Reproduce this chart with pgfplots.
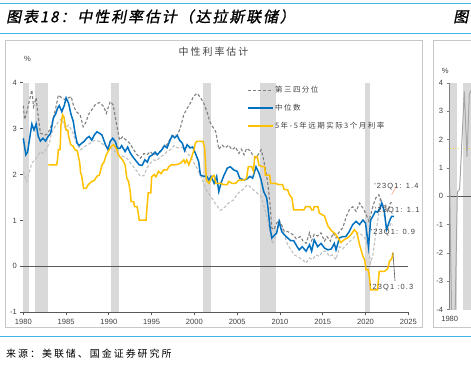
\documentclass[border=0pt]{standalone}
\usepackage{fontspec}
\setmainfont{Liberation Sans}
\newfontfamily\cjkhead[FakeSlant=0.2,FakeBold=1.2,LetterSpace=13]{Noto Sans CJK SC}
\newfontfamily\cjksp[LetterSpace=20]{Noto Sans CJK SC}
\newfontfamily\cjkleg[LetterSpace=20]{Noto Sans CJK SC}
\newfontfamily\cjkfoot[LetterSpace=20]{Noto Sans CJK SC}
\newfontfamily\annfont[LetterSpace=15]{Liberation Sans}
\usepackage{pgfplots}
\pgfplotsset{compat=1.18}
\definecolor{hdrblue}{RGB}{64,180,230}
\definecolor{myblue}{RGB}{0,112,192}
\definecolor{mygold}{RGB}{255,192,0}
\definecolor{dgray}{RGB}{128,128,128}
\definecolor{lgray}{RGB}{191,191,191}
\definecolor{band}{RGB}{217,217,217}
\definecolor{axisgray}{RGB}{89,89,89}
\definecolor{framegray}{RGB}{200,200,200}
\definecolor{txt}{RGB}{64,64,64}
\definecolor{lorange}{RGB}{250,170,130}
\begin{document}
\begin{tikzpicture}[x=1bp,y=1bp]
% header & footer
\draw[hdrblue, line width=1.5bp] (0,364.5) -- (471,364.5);
\draw[hdrblue, line width=1.5bp] (0,334.5) -- (471,334.5);
\node[anchor=west, inner sep=0, font=\cjkhead\fontsize{15}{17}\selectfont, text=black] at (6,351.5) {图表18：中性利率估计（达拉斯联储）};
\node[anchor=west, inner sep=0, font=\cjkhead\fontsize{15}{17}\selectfont, text=black] at (453,351.5) {图表19：};
\draw[framegray, line width=0.8bp] (5,40.3) rectangle (422.7,327.3);
\draw[framegray, line width=0.8bp] (433.3,40.3) rectangle (520,327.3);
\draw[hdrblue, line width=1.5bp] (0,31.3) -- (471,31.3);
\node[anchor=west, inner sep=0, font=\cjkfoot\fontsize{10}{12}\selectfont, text=black] at (6,14.7) {来源：美联储、国金证券研究所};
% title and unit
\node[font=\cjksp\fontsize{10}{12}\selectfont, text=txt] at (213.5,316) {中性利率估计};
\node[font=\fontsize{7.6}{9}\selectfont, text=txt] at (27.5,309.5) {\%};

\begin{axis}[
  at={(23.3bp,55.7bp)}, anchor=south west,
  scale only axis, width=385bp, height=229.6bp,
  xmin=1980, xmax=2025, ymin=-1, ymax=4,
  axis x line*=bottom, axis y line*=left,
  axis line style={axisgray, line width=1bp},
  xtick={1980,1985,...,2025}, ytick={-1,0,1,2,3,4},
  tick align=outside, major tick length=3bp,
  every tick/.style={axisgray, line width=0.8bp},
  ticklabel style={font=\fontsize{7.6}{9}\selectfont, text=txt},
  /pgf/number format/assume math mode=true,
  /pgf/number format/1000 sep={},
  clip=false,
  legend style={at={(0.582,0.99)}, anchor=north west, draw=none, fill=none,
    inner sep=0pt, row sep=8bp, font=\cjkleg\fontsize{7.5}{9}\selectfont, text=txt,
    nodes={inner sep=1bp}},
  legend cell align=left,
  legend image code/.code={\draw[#1] (0bp,0bp) -- (25bp,0bp);},
]
% recession bands
\addplot[fill=band, draw=none, forget plot] coordinates {(1980,-1) (1980,4) (1980.7,4) (1980.7,-1)} --cycle;
\addplot[fill=band, draw=none, forget plot] coordinates {(1981.35,-1) (1981.35,4) (1982.9,4) (1982.9,-1)} --cycle;
\addplot[fill=band, draw=none, forget plot] coordinates {(1990.3,-1) (1990.3,4) (1991.2,4) (1991.2,-1)} --cycle;
\addplot[fill=band, draw=none, forget plot] coordinates {(2000.95,-1) (2000.95,4) (2001.95,4) (2001.95,-1)} --cycle;
\addplot[fill=band, draw=none, forget plot] coordinates {(2007.7,-1) (2007.7,4) (2009.5,4) (2009.5,-1)} --cycle;
\addplot[fill=band, draw=none, forget plot] coordinates {(2019.95,-1) (2019.95,4) (2020.55,4) (2020.55,-1)} --cycle;
% zero line
\addplot[axisgray, line width=1bp, forget plot] coordinates {(1980,0) (2025,0)};
% first quartile (light gray dashed)
\addplot[lgray, line width=1.1bp, dash pattern=on 3bp off 2bp, forget plot] coordinates {
(1980.0,2.07) (1980.4,1.85) (1981.0,2.25) (1981.5,2.35) (1982.0,2.50) (1982.3,2.46)
(1982.65,2.54) (1983.05,2.68) (1983.3,2.90) (1983.7,3.04) (1984.1,3.15) (1984.5,3.22)
(1984.9,3.01) (1985.3,3.08) (1985.7,2.95) (1986.2,2.70) (1986.65,2.54) (1987.2,2.61)
(1987.8,2.68) (1988.4,2.75) (1988.9,2.72) (1989.6,2.61) (1990.15,2.61) (1990.5,2.54)
(1991.15,2.43) (1991.6,2.40) (1992.1,2.36) (1992.7,2.21) (1993.3,2.07) (1993.7,1.96)
(1994.1,1.98) (1994.45,2.14) (1994.85,2.25) (1995.25,2.32) (1995.6,2.30) (1996.0,2.39)
(1996.4,2.42) (1996.8,2.50) (1997.2,2.54) (1997.6,2.63) (1998.0,2.58) (1998.55,2.60)
(1999.0,2.50) (1999.35,2.43) (1999.75,2.32) (2000.3,2.14) (2000.7,1.99) (2001.1,1.80)
(2001.5,1.63) (2002.0,1.50) (2002.5,1.35) (2003.05,1.22) (2003.5,1.28) (2004.0,1.38)
(2004.6,1.45) (2005.0,1.58) (2005.4,1.63) (2005.8,1.70) (2006.2,1.78) (2006.6,1.72)
(2007.2,1.62) (2007.8,1.52) (2008.1,1.34) (2008.5,1.05) (2008.9,0.69) (2009.1,0.50)
(2009.4,0.62) (2009.95,0.98) (2010.5,0.69) (2010.9,0.47) (2011.3,0.36) (2011.65,0.25)
(2012.0,0.22) (2012.6,0.15) (2013.05,0.07) (2013.45,0.18) (2013.8,0.15) (2014.2,0.25)
(2014.6,0.22) (2015.0,0.33) (2015.4,0.33) (2015.75,0.22) (2016.1,0.25) (2016.55,0.15)
(2016.95,0.43) (2017.35,0.38) (2017.75,0.47) (2018.35,0.58) (2018.75,0.65) (2019.15,0.73)
(2019.5,0.70) (2019.9,0.62) (2020.3,0.43) (2020.6,0.07) (2020.85,0.25) (2021.15,0.65)
(2021.5,1.09) (2021.7,1.49) (2022.0,1.27) (2022.3,1.01) (2022.6,0.80) (2023.0,0.94)
(2023.2,0.90)};
% third quartile (dark gray dashed)
\addplot[dgray, line width=1.1bp, dash pattern=on 3bp off 2bp] coordinates {
(1980.0,3.50) (1980.15,3.20) (1980.4,3.35) (1980.7,3.60) (1981.0,3.84) (1981.2,3.48)
(1981.5,3.67) (1981.75,3.25) (1982.0,2.90) (1982.3,2.88) (1982.6,2.86) (1982.9,2.90)
(1983.3,3.08) (1983.7,3.37) (1984.1,3.73) (1984.5,3.67) (1984.9,3.63) (1985.3,3.67)
(1985.6,3.70) (1985.9,3.48) (1986.2,3.37) (1986.65,3.30) (1987.0,3.04) (1987.35,3.15)
(1987.6,3.30) (1988.0,3.41) (1988.4,3.52) (1988.9,3.57) (1989.4,3.48) (1989.7,3.33)
(1990.15,3.59) (1990.5,3.52) (1990.95,3.04) (1991.25,2.75) (1991.6,2.82) (1991.9,2.77)
(1992.45,2.68) (1992.9,2.54) (1993.3,2.43) (1993.7,2.36) (1994.1,2.46) (1994.45,2.43)
(1994.85,2.50) (1995.2,2.43) (1995.6,2.46) (1996.0,2.50) (1996.4,2.61) (1996.8,2.65)
(1997.2,2.79) (1997.6,2.86) (1998.0,2.86) (1998.35,3.01) (1998.75,3.30) (1999.15,3.44)
(1999.5,3.55) (1999.9,3.70) (2000.3,3.77) (2000.7,3.68) (2001.1,3.55) (2001.5,3.35)
(2001.8,3.15) (2002.1,3.05) (2002.5,2.93) (2002.85,2.55) (2003.25,2.64) (2003.6,2.58)
(2004.0,2.64) (2004.4,2.54) (2004.8,2.60) (2005.2,2.46) (2005.5,2.55) (2005.8,2.43)
(2006.1,2.57) (2006.5,2.52) (2006.8,2.43) (2007.2,2.36) (2007.5,2.45) (2007.8,2.54)
(2008.05,2.36) (2008.35,2.07) (2008.6,1.78) (2008.85,1.34) (2009.05,0.83) (2009.3,0.80)
(2009.6,0.94) (2009.9,1.01) (2010.2,0.90) (2010.5,0.76) (2010.9,0.76) (2011.25,0.72)
(2011.6,0.68) (2011.9,0.60) (2012.4,0.65) (2012.7,0.55) (2013.05,0.50) (2013.45,0.73)
(2013.7,0.56) (2014.0,0.70) (2014.4,0.66) (2014.8,0.73) (2015.2,0.55) (2015.5,0.65)
(2015.9,0.55) (2016.2,0.73) (2016.55,0.62) (2016.95,0.76) (2017.35,0.84) (2017.75,1.09)
(2018.1,1.23) (2018.5,1.30) (2018.9,1.20) (2019.3,1.38) (2019.7,1.27) (2020.0,1.16)
(2020.4,0.98) (2020.85,1.30) (2021.2,1.49) (2021.55,1.56) (2021.8,1.45) (2022.1,1.30)
(2022.35,1.33) (2022.6,1.20) (2022.9,1.38) (2023.2,1.40)};
\addlegendentry{第三四分位}
% median (blue)
\addplot[myblue, line width=1.5bp] coordinates {
(1980.0,2.79) (1980.3,2.43) (1980.5,2.49) (1981.0,3.10) (1981.25,2.97) (1981.5,3.10)
(1981.75,2.83) (1982.0,2.73) (1982.3,2.79) (1982.6,2.73) (1982.9,2.83) (1983.2,2.90)
(1983.5,3.22) (1983.8,3.33) (1984.0,3.44) (1984.2,3.50) (1984.5,3.37) (1984.8,3.51)
(1985.0,3.67) (1985.3,3.55) (1985.55,3.33) (1985.85,3.15) (1986.05,2.90) (1986.3,2.68)
(1986.55,2.63) (1986.8,2.68) (1987.1,2.72) (1987.4,2.79) (1987.7,2.83) (1988.0,2.75)
(1988.3,2.86) (1988.6,2.93) (1988.9,2.90) (1989.2,2.86) (1989.6,2.65) (1989.9,2.54)
(1990.15,2.72) (1990.45,2.79) (1990.75,2.72) (1991.0,2.57) (1991.3,2.57) (1991.5,2.63)
(1991.9,2.50) (1992.2,2.60) (1992.5,2.47) (1992.9,2.36) (1993.3,2.27) (1993.55,2.21)
(1993.9,2.20) (1994.2,2.32) (1994.5,2.27) (1994.75,2.39) (1995.1,2.43) (1995.4,2.49)
(1995.65,2.43) (1995.95,2.49) (1996.2,2.54) (1996.5,2.63) (1996.8,2.58) (1997.1,2.72)
(1997.4,2.85) (1997.7,2.80) (1998.0,2.85) (1998.25,2.75) (1998.6,2.68) (1998.85,2.52)
(1999.15,2.65) (1999.5,2.58) (1999.8,2.60) (2000.1,2.47) (2000.5,2.28) (2000.7,1.99)
(2001.1,1.96) (2001.4,1.97) (2001.7,1.88) (2001.95,1.96) (2002.3,1.81) (2002.6,1.96)
(2002.85,1.63) (2003.1,1.81) (2003.4,1.96) (2003.85,2.14) (2004.2,2.17) (2004.6,2.10)
(2005.0,2.07) (2005.3,1.92) (2005.8,1.88) (2006.1,1.90) (2006.5,1.96) (2006.8,1.92)
(2007.2,2.17) (2007.55,2.03) (2007.8,1.88) (2008.1,1.63) (2008.45,1.49) (2008.6,1.27)
(2008.85,0.83) (2009.05,0.62) (2009.4,0.69) (2009.6,0.72) (2009.9,0.98) (2010.2,0.76)
(2010.5,0.69) (2010.9,0.62) (2011.25,0.56) (2011.6,0.56) (2012.0,0.43) (2012.25,0.36)
(2012.6,0.43) (2013.05,0.33) (2013.45,0.47) (2013.7,0.33) (2014.0,0.58) (2014.4,0.43)
(2014.8,0.50) (2015.2,0.40) (2015.6,0.36) (2016.0,0.38) (2016.35,0.50) (2016.55,0.36)
(2016.95,0.62) (2017.35,0.65) (2017.7,0.65) (2018.1,0.76) (2018.5,0.91) (2018.9,0.98)
(2019.3,0.91) (2019.7,1.01) (2020.0,0.94) (2020.35,0.43) (2020.6,1.01) (2020.85,1.09)
(2021.15,1.20) (2021.4,1.18) (2021.7,1.27) (2021.9,1.38) (2022.2,1.20) (2022.45,0.80)
(2022.85,1.01) (2023.06,1.09) (2023.3,1.09)};
\addlegendentry{中位数}
% 5y5y forward real 3-month rate (gold)
\addplot[mygold, line width=1.5bp] coordinates {
(1982.93,2.21) (1983.9,2.21) (1984.0,2.32) (1984.1,2.54) (1984.3,2.54) (1984.4,3.08)
(1984.6,3.30) (1984.75,3.25) (1985.0,2.97) (1985.2,2.97) (1985.3,2.83) (1985.55,2.65)
(1985.8,2.62) (1986.05,2.54) (1986.3,2.52) (1986.6,2.25) (1986.7,2.03) (1986.8,1.99)
(1987.05,1.70) (1987.35,1.70) (1987.6,1.78) (1988.0,1.85) (1988.3,1.87) (1988.6,1.96)
(1988.9,1.99) (1989.2,2.21) (1989.45,2.28) (1989.7,2.43) (1989.95,2.51) (1990.25,2.61)
(1990.55,2.65) (1990.95,2.54) (1991.1,2.43) (1991.6,2.32) (1991.9,2.21) (1992.1,1.92)
(1992.3,1.85) (1992.5,1.63) (1992.6,1.41) (1992.9,1.41) (1993.0,1.30) (1993.3,1.30)
(1993.4,1.20) (1993.55,1.01) (1994.35,1.01) (1994.45,1.27) (1994.6,1.60) (1994.9,1.60)
(1995.0,1.95) (1995.3,2.00) (1995.5,1.95) (1995.8,2.07) (1996.1,2.02) (1996.4,2.10)
(1996.8,2.10) (1997.0,2.17) (1997.3,2.21) (1997.6,2.21) (1998.0,2.22) (1998.4,2.25)
(1998.75,2.32) (1998.9,2.25) (1999.1,2.32) (1999.35,2.21) (1999.65,2.36) (1999.95,2.54)
(2000.1,2.68) (2000.25,2.72) (2001.0,2.72) (2001.2,2.57) (2001.4,1.88) (2001.7,1.81)
(2002.1,1.96) (2002.3,1.98) (2002.5,1.81) (2003.05,1.81) (2003.4,1.78) (2003.85,1.78)
(2004.0,1.85) (2004.4,1.81) (2004.8,1.81) (2005.2,1.88) (2005.8,1.88) (2006.1,1.92)
(2006.3,2.17) (2006.7,2.17) (2006.9,2.07) (2007.05,2.39) (2007.35,2.39) (2007.55,2.20)
(2007.95,2.17) (2008.2,2.17) (2008.3,1.99) (2008.8,1.99) (2008.9,1.81) (2009.5,1.81)
(2009.8,1.78) (2010.3,1.78) (2010.5,1.67) (2010.9,1.67) (2011.1,1.56) (2011.4,1.49)
(2011.6,1.23) (2012.8,1.23) (2013.0,1.30) (2013.5,1.30) (2013.7,1.23) (2013.9,1.23)
(2014.0,1.30) (2014.45,1.30) (2014.6,1.16) (2015.2,1.10) (2015.6,0.88) (2016.0,0.78)
(2016.4,0.72) (2016.8,0.62) (2017.1,0.52) (2017.5,0.58) (2017.9,0.62) (2018.3,0.69)
(2018.7,0.80) (2019.0,0.73) (2019.3,0.47) (2019.7,0.22) (2019.9,0.15) (2020.05,-0.07)
(2020.3,-0.07) (2020.45,-0.22) (2020.6,-0.51) (2021.4,-0.51) (2021.6,-0.11) (2022.2,-0.11)
(2022.6,-0.05) (2022.8,0.11) (2023.1,0.18) (2023.2,0.30)};
\addlegendentry{5年-5年远期实际3个月利率}
% leader lines
\addplot[axisgray, line width=0.6bp, forget plot] coordinates {(2023.2,0.30) (2023.45,-0.32)};
\addplot[lorange, line width=0.6bp, forget plot] coordinates {(2023.05,1.56) (2023.64,1.75)};
% annotations
\node[anchor=west, inner sep=0, font=\annfont\fontsize{7.5}{9}\selectfont, text=txt] at (axis cs:2021.0,1.73) {'23Q1: 1.4};
\node[anchor=west, inner sep=0, font=\annfont\fontsize{7.5}{9}\selectfont, text=txt] at (axis cs:2021.1,1.22) {'23Q1: 1.1};
\node[anchor=west, inner sep=0, font=\annfont\fontsize{7.5}{9}\selectfont, text=txt] at (axis cs:2020.6,0.73) {'23Q1: 0.9};
\node[anchor=west, inner sep=0, font=\annfont\fontsize{7.5}{9}\selectfont, text=txt] at (axis cs:2020.5,-0.47) {'23Q1 :0.3};
\end{axis}

% partial neighbouring chart
\node[font=\fontsize{7.6}{9}\selectfont, text=txt] at (445.3,296.7) {\%};
\begin{axis}[
  at={(449.7bp,58.3bp)}, anchor=south west,
  scale only axis, width=405bp, height=226.7bp,
  xmin=1980, xmax=2025, ymin=-4, ymax=4,
  axis y line*=left, axis x line*=bottom,
  x axis line style={draw=none},
  y axis line style={dgray, line width=0.8bp},
  xtick={1980}, ytick={-4,-3,...,4},
  tick align=outside, major tick length=3bp,
  every tick/.style={dgray, line width=0.6bp},
  x tick style={draw=none},
  ticklabel style={font=\fontsize{7.6}{9}\selectfont, text=txt},
  /pgf/number format/assume math mode=true,
  /pgf/number format/1000 sep={},
]
\addplot[fill=band, draw=none] coordinates {(1980,-4) (1980,4) (1980.8,4) (1980.8,-4)} --cycle;
\addplot[fill=band, draw=none] coordinates {(1981.5,-4) (1981.5,4) (1982.95,4) (1982.95,-4)} --cycle;
\addplot[axisgray, line width=1bp] coordinates {(1980,0) (2025,0)};
\addplot[mygold!70, line width=0.8bp, dotted] coordinates {(1980,1.7) (2025,1.7)};
\addplot[gray!70, line width=1bp] coordinates {(1980.0,0.3) (1980.25,-5) (1980.55,-5) (1980.85,0.15) (1981.1,0.25) (1981.62,3.7) (1981.92,1.4) (1982.18,3.6) (1982.6,3.9) (1983.0,3.5)};
\end{axis}
\pgfresetboundingbox
\path[use as bounding box] (0,0) rectangle (471,368);
\end{tikzpicture}
\end{document}
